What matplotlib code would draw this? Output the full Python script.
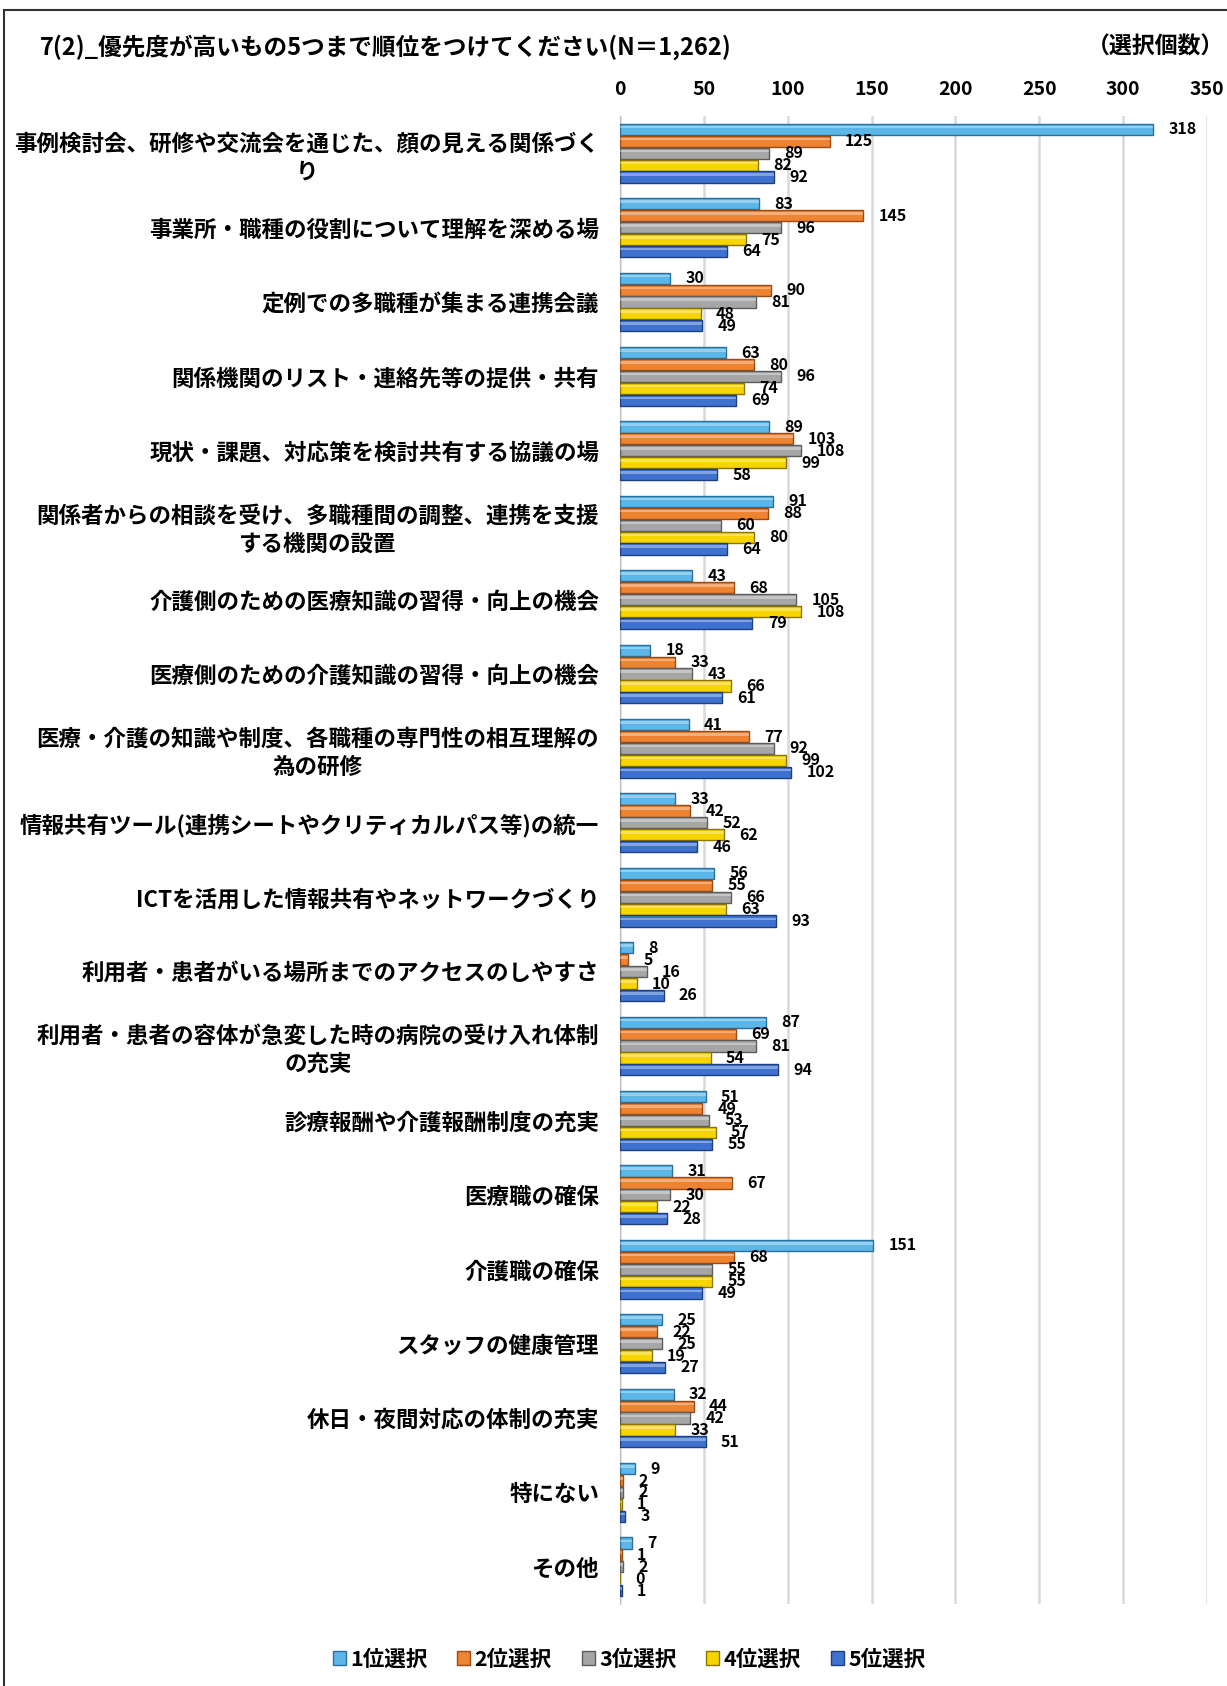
import numpy as np
import matplotlib
matplotlib.use('Agg')
import matplotlib.pyplot as plt
from matplotlib.patches import Patch, Rectangle

plt.rcParams['font.family'] = ['Noto Sans CJK JP', 'DejaVu Sans']
plt.rcParams['font.weight'] = 'bold'

# data
categories = [
    "事例検討会、研修や交流会を通じた、顔の見える関係づく\nり",
    "事業所・職種の役割について理解を深める場",
    "定例での多職種が集まる連携会議",
    "関係機関のリスト・連絡先等の提供・共有",
    "現状・課題、対応策を検討共有する協議の場",
    "関係者からの相談を受け、多職種間の調整、連携を支援\nする機関の設置",
    "介護側のための医療知識の習得・向上の機会",
    "医療側のための介護知識の習得・向上の機会",
    "医療・介護の知識や制度、各職種の専門性の相互理解の\n為の研修",
    "情報共有ツール(連携シートやクリティカルパス等)の統一",
    "ICTを活用した情報共有やネットワークづくり",
    "利用者・患者がいる場所までのアクセスのしやすさ",
    "利用者・患者の容体が急変した時の病院の受け入れ体制\nの充実",
    "診療報酬や介護報酬制度の充実",
    "医療職の確保",
    "介護職の確保",
    "スタッフの健康管理",
    "休日・夜間対応の体制の充実",
    "特にない",
    "その他",
]
rank1 = [318, 83, 30, 63, 89, 91, 43, 18, 41, 33, 56, 8, 87, 51, 31, 151, 25, 32, 9, 7]
rank2 = [125, 145, 90, 80, 103, 88, 68, 33, 77, 42, 55, 5, 69, 49, 67, 68, 22, 44, 2, 1]
rank3 = [89, 96, 81, 96, 108, 60, 105, 43, 92, 52, 66, 16, 81, 53, 30, 55, 25, 42, 2, 2]
rank4 = [82, 75, 48, 74, 99, 80, 108, 66, 99, 62, 63, 10, 54, 57, 22, 55, 19, 33, 1, 0]
rank5 = [92, 64, 49, 69, 58, 64, 79, 61, 102, 46, 93, 26, 94, 55, 28, 49, 27, 51, 3, 1]
series_names = ["1位選択", "2位選択", "3位選択", "4位選択", "5位選択"]
xticks = [0, 50, 100, 150, 200, 250, 300, 350]

series = [rank1, rank2, rank3, rank4, rank5]
colors = ['#5cb6e8', '#ee8332', '#a6a6a6', '#f7d500', '#3f72cf']
edges = ['#2a6f9e', '#9a4a12', '#5c5c5c', '#8c7400', '#1d3f80']

fig = plt.figure(figsize=(12.27, 16.86), dpi=100)
ax = fig.add_axes([0.5053, 0.0486, 0.4784, 0.8826])

y = np.arange(len(categories))
step = 0.16
for k, vals in enumerate(series):
    pos = y + (k - 2) * step
    ax.barh(pos, vals, height=0.15, color=colors[k], edgecolor=edges[k],
            linewidth=1.0, zorder=3)
    # light stripe for the bevelled look
    ax.barh(pos - 0.03, vals, height=0.035, color='white', alpha=0.35,
            linewidth=0, zorder=4)
    for p, v in zip(pos, vals):
        ax.annotate(str(v), (v, p), xytext=(11, 0), textcoords='offset points',
                    ha='left', va='center', fontsize=11.5, fontweight='bold')

ax.set_xlim(0, 350)
ax.set_ylim(len(categories) - 0.5, -0.5)
ax.set_xticks(xticks)
ax.xaxis.tick_top()
ax.tick_params(axis='x', length=0, labelsize=14, pad=12)
ax.set_yticks(y)
ax.set_yticklabels(categories, fontsize=16.2, fontweight='bold',
                   multialignment='center', linespacing=1.25)
ax.tick_params(axis='y', length=0, pad=15)
ax.grid(axis='x', color='#d9d9d9', linewidth=1.8, zorder=0)
for s in ['top', 'right', 'bottom']:
    ax.spines[s].set_visible(False)
ax.spines['left'].set_color('#bfbfbf')

fig.text(40 / 1227, 1 - 47 / 1686,
         "7(2)_優先度が高いもの5つまで順位をつけてください(N＝1,262)",
         ha='left', va='center', fontsize=17, fontweight='bold')
fig.text(1224 / 1227, 1 - 47 / 1686, "（選択個数）",
         ha='right', va='center', fontsize=16.5, fontweight='bold')

handles = [Patch(facecolor=colors[k], edgecolor=edges[k]) for k in range(5)]
fig.legend(handles, series_names, loc='center', ncol=5,
           bbox_to_anchor=(629 / 1227, 1 - 1659 / 1686), frameon=False,
           prop={'size': 15.5, 'weight': 'bold'}, handlelength=0.6,
           handleheight=0.6, handletextpad=0.2, columnspacing=1.4)

# outer frame (only top and left visible in the crop)
fig.patches.append(Rectangle((4 / 1227, -0.1), 1.2, 1 - 10 / 1686 + 0.1,
                             transform=fig.transFigure, fill=False,
                             edgecolor='#333333', linewidth=1.5))

fig.savefig('out.png', dpi=100)
